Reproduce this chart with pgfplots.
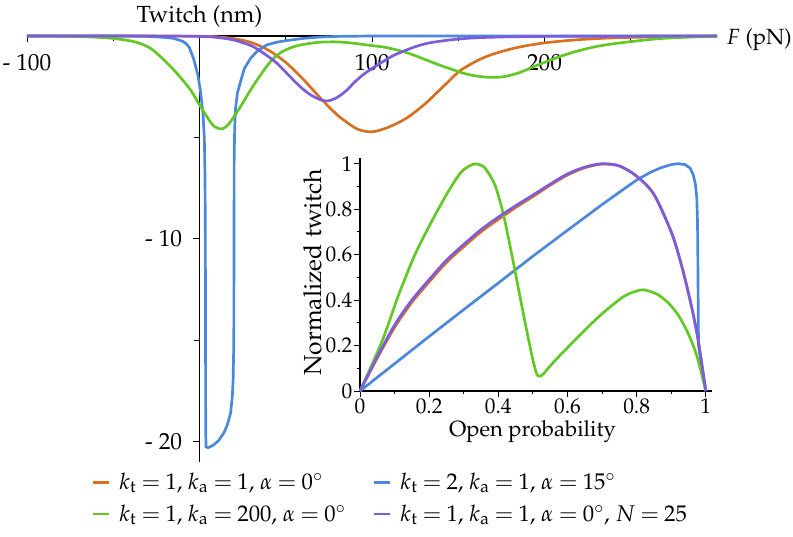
\documentclass[border=0pt]{standalone}
\usepackage[T1]{fontenc}
\usepackage{mathpazo}
\usepackage{pgfplots}
\pgfplotsset{compat=1.18}
\definecolor{corange}{RGB}{217,112,32}
\definecolor{cgreen}{RGB}{98,200,36}
\definecolor{cblue}{RGB}{74,136,222}
\definecolor{cpurple}{RGB}{124,92,222}
\thickmuskip=4mu plus 2mu
\begin{document}
\begin{tikzpicture}[font=\fontsize{16.5}{19}\selectfont]
\path[use as bounding box] (-20.25pt,-55.5pt) rectangle (574.5pt,346.5pt);
\begin{axis}[
  at={(0pt,0pt)}, anchor=south west,
  scale only axis, width=517.5pt, height=319.5pt,
  xmin=-100, xmax=300, ymin=-21, ymax=0,
  axis lines=middle, axis line style={-, line width=0.9pt, black},
  clip=false,
  xtick={-100,100,200}, xticklabels={-\ 100,100,200},
  minor xtick={-50,50,150,250},
  ytick={-10,-20}, yticklabels={-\ 10,-\ 20},
  minor ytick={-5,-15},
  tick align=outside,
  major tick length=4.5pt, minor tick length=4pt,
  tick style={black, line width=0.6pt},
  tick label style={font=\fontsize{17.5}{20}\selectfont},
  xticklabel style={yshift=-6pt},
  yticklabel style={xshift=-5pt},
  every axis y label/.style={at={(axis cs:0,0)}, anchor=south, yshift=6pt, inner sep=0pt, font=\fontsize{17.5}{20}\selectfont},
  every axis x label/.style={at={(axis cs:300,0)}, anchor=west, xshift=7pt, yshift=-3pt, inner sep=0pt, font=\fontsize{16.5}{19}\selectfont},
  ylabel={Twitch (nm)}, xlabel={$F$ (pN)},
  legend columns=2, legend cell align=left,
  legend image code/.code={\draw[#1] (0pt,0pt) -- (12pt,0pt); \path (17pt,0pt);},
  legend style={at={(axis description cs:0,0)}, anchor=north west, xshift=45pt, yshift=-4pt,
    draw=none, fill=none, font=\fontsize{17}{20}\selectfont, row sep=6pt,
    /tikz/every even column/.append style={column sep=18pt}},
  every axis plot/.append style={line width=2pt},
]
\addplot[corange, smooth] coordinates {(-100,0) (-50,0) (-20,-0.002) (0,-0.01) (10,-0.04) (20,-0.13) (30,-0.32) (40,-0.70) (50,-1.30) (60,-2.12) (70,-3.05) (80,-3.90) (90,-4.52) (95,-4.68) (98,-4.72) (102,-4.70) (110,-4.48) (120,-4.05) (130,-3.40) (140,-2.60) (150,-1.78) (155,-1.50) (160,-1.26) (165,-1.06) (170,-0.90) (180,-0.65) (190,-0.47) (200,-0.34) (210,-0.25) (220,-0.18) (230,-0.13) (240,-0.09) (250,-0.07) (260,-0.05) (270,-0.03) (280,-0.02) (290,-0.01) (300,0)};
\addlegendentry{$k_\mathrm{t}=1$, $k_\mathrm{a}=1$, $\alpha=0^\circ$}
\addplot[cblue] coordinates {(-100,0) (-40,0) (-30,-0.02) (-20,-0.07) (-15,-0.12) (-10,-0.25) (-8,-0.36) (-6,-0.55) (-3.5,-1.1) (-1,-1.9) (0.6,-2.74) (2.0,-3.8) (2.8,-5.0) (3.2,-7) (3.4,-10) (3.5,-15) (3.6,-19.5) (3.8,-20.25) (5,-20.3) (8.3,-20.15) (11,-19.95) (14.1,-19.57) (16,-19.2) (18,-18.6) (19,-17.8) (19.5,-16.95) (19.8,-15.5) (19.9,-14.5) (20.0,-10) (20.1,-6) (20.4,-4.5) (20.9,-3.56) (22,-2.8) (23.8,-2.25) (26,-1.6) (29.6,-1.1) (34,-0.7) (39,-0.44) (45,-0.3) (52.8,-0.2) (60,-0.12) (70,-0.05) (80,-0.02) (100,0) (300,0)};
\addlegendentry{$k_\mathrm{t}=2$, $k_\mathrm{a}=1$, $\alpha=15^\circ$}
\addplot[cgreen, smooth] coordinates {(-100,0) (-80,-0.01) (-70,-0.03) (-60,-0.06) (-50,-0.12) (-40,-0.24) (-34,-0.38) (-28,-0.63) (-22.6,-1.02) (-18,-1.40) (-12.9,-1.86) (-5.2,-2.66) (0.6,-3.48) (6.4,-4.25) (9,-4.48) (12.2,-4.58) (15,-4.50) (18,-4.22) (23.8,-3.48) (29.6,-2.66) (35.4,-1.92) (41,-1.27) (45,-0.95) (49,-0.72) (55,-0.52) (60,-0.42) (68,-0.32) (75,-0.29) (80,-0.29) (87.5,-0.34) (95,-0.42) (107,-0.55) (115,-0.70) (120,-0.82) (126,-1.00) (135,-1.30) (142,-1.52) (149,-1.72) (155,-1.88) (162,-1.99) (169,-2.04) (176,-2.01) (185,-1.82) (194,-1.50) (200,-1.30) (210,-0.98) (220,-0.72) (230,-0.52) (240,-0.38) (250,-0.28) (260,-0.18) (270,-0.11) (280,-0.07) (290,-0.04) (300,-0.02)};
\addlegendentry{$k_\mathrm{t}=1$, $k_\mathrm{a}=200$, $\alpha=0^\circ$}
\addplot[cpurple, smooth] coordinates {(-100,0) (-20,-0.005) (0,-0.02) (10,-0.07) (20,-0.20) (30,-0.48) (35.4,-0.75) (40,-1.02) (45,-1.35) (50,-1.78) (55,-2.22) (60,-2.62) (65,-2.93) (70,-3.14) (73,-3.20) (76,-3.17) (80,-3.02) (85,-2.70) (90,-2.27) (95,-1.90) (100,-1.60) (107,-1.23) (112,-0.98) (118.5,-0.74) (125,-0.53) (132,-0.36) (140,-0.25) (150,-0.15) (160,-0.09) (170,-0.06) (180,-0.04) (200,-0.02) (250,-0.005) (300,0)};
\addlegendentry{$k_\mathrm{t}=1$, $k_\mathrm{a}=1$, $\alpha=0^\circ$, $N=25$}
\end{axis}
\begin{axis}[
  at={(249.75pt,53.25pt)}, anchor=south west,
  scale only axis, width=264pt, height=174.75pt,
  xmin=0, xmax=1.018, ymin=0, ymax=1.025,
  axis lines=left, axis line style={-, line width=0.9pt, black},
  clip=false,
  xtick={0,0.2,0.4,0.6,0.8,1}, ytick={0,0.2,0.4,0.6,0.8,1},
  minor xtick={0.1,0.3,0.5,0.7,0.9}, minor ytick={0.1,0.3,0.5,0.7,0.9},
  tick align=outside,
  major tick length=4.5pt, minor tick length=2.5pt,
  tick style={black, line width=0.6pt},
  tick label style={font=\fontsize{16}{19}\selectfont, inner sep=1pt},
  every axis x label/.style={at={(axis description cs:0.49,0)}, anchor=base, yshift=-34pt, inner sep=0pt, font=\fontsize{16.5}{19}\selectfont},
  every axis y label/.style={at={(axis description cs:-0.135,0.51)}, rotate=90, anchor=center, inner sep=0pt, font=\fontsize{18.5}{21}\selectfont},
  xlabel={Open probability}, ylabel={Normalized twitch},
  every axis plot/.append style={line width=2pt},
]
\addplot[corange, smooth] coordinates {(0,0) (0.05,0.145) (0.1,0.28) (0.15,0.39) (0.2,0.48) (0.25,0.565) (0.3,0.635) (0.35,0.70) (0.4,0.755) (0.45,0.807) (0.5,0.855) (0.55,0.905) (0.6,0.95) (0.65,0.982) (0.7,0.998) (0.75,0.99) (0.8,0.945) (0.85,0.865) (0.9,0.70) (0.925,0.58) (0.95,0.43) (0.975,0.25) (1,0)};
\addplot[cblue] coordinates {(0,0) (0.1,0.12) (0.2,0.24) (0.3,0.358) (0.4,0.475) (0.5,0.593) (0.6,0.707) (0.7,0.82) (0.76,0.885) (0.8,0.928) (0.84,0.962) (0.87,0.982) (0.9,0.996) (0.92,1.0) (0.94,0.996) (0.955,0.98) (0.964,0.95) (0.970,0.91) (0.974,0.85) (0.976,0.75) (0.977,0.6) (0.978,0.4) (0.979,0.2) (0.99,0.09) (1,0)};
\addplot[cgreen, smooth] coordinates {(0,0) (0.063,0.216) (0.111,0.42) (0.159,0.60) (0.207,0.745) (0.255,0.877) (0.294,0.965) (0.328,0.998) (0.345,0.995) (0.362,0.98) (0.39,0.907) (0.415,0.775) (0.439,0.6) (0.458,0.452) (0.477,0.305) (0.497,0.157) (0.51,0.08) (0.518,0.065) (0.53,0.075) (0.55,0.11) (0.588,0.172) (0.685,0.319) (0.762,0.415) (0.81,0.444) (0.83,0.442) (0.86,0.425) (0.89,0.39) (0.92,0.335) (0.95,0.25) (0.975,0.15) (1,0)};
\addplot[cpurple, smooth] coordinates {(0,0) (0.05,0.15) (0.1,0.29) (0.15,0.40) (0.2,0.49) (0.25,0.575) (0.3,0.645) (0.35,0.71) (0.4,0.765) (0.45,0.815) (0.5,0.862) (0.55,0.91) (0.6,0.955) (0.65,0.985) (0.7,1.0) (0.75,0.99) (0.8,0.945) (0.85,0.865) (0.9,0.70) (0.925,0.58) (0.95,0.43) (0.975,0.25) (1,0)};
\end{axis}
\end{tikzpicture}
\end{document}
